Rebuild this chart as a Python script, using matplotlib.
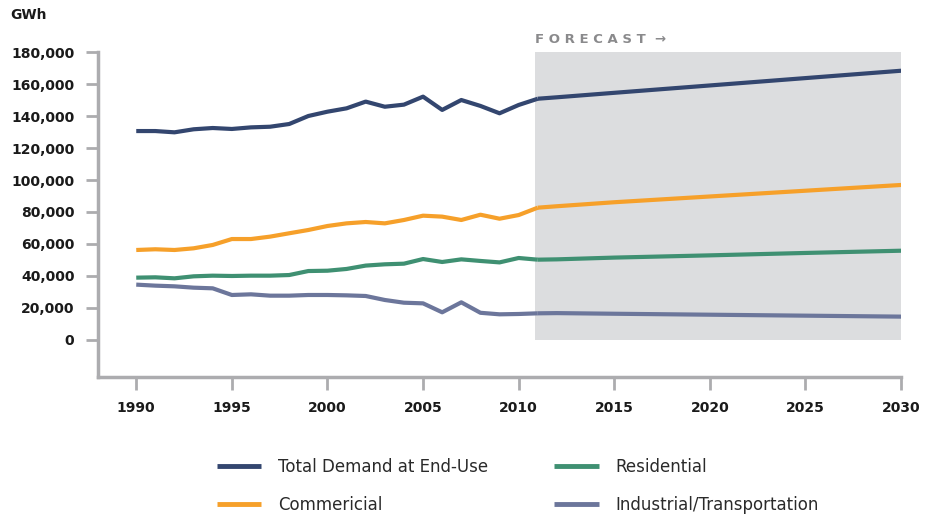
import matplotlib
matplotlib.use("Agg")
import matplotlib.pyplot as plt

# %% dados
anos_hist = [1990, 1991, 1992, 1993, 1994, 1995, 1996, 1997, 1998, 1999, 2000,
             2001, 2002, 2003, 2004, 2005, 2006, 2007, 2008, 2009, 2010, 2011]
anos_prev = [2011, 2012, 2015, 2020, 2025, 2030]

total_hist = [130600, 130600, 129800, 131700, 132500, 131900, 132900, 133300, 135000,
              140000, 142700, 144800, 149000, 145800, 147100, 152100, 143800, 150000,
              146300, 141700, 146900, 150800]
total_prev = [150800, 151700, 154500, 159100, 163700, 168300]

comercial_hist = [56250, 56700, 56250, 57300, 59400, 63100, 63100, 64600, 66700,
                  68750, 71250, 72900, 73750, 72900, 75000, 77700, 77100, 75000,
                  78300, 75800, 78100, 82700]
comercial_prev = [82700, 83600, 86100, 89700, 93300, 96900]

residencial_hist = [38960, 39170, 38540, 39790, 40200, 40000, 40200, 40200, 40600,
                    43100, 43300, 44400, 46500, 47300, 47700, 50600, 48750, 50400,
                    49400, 48500, 51250, 50200]
residencial_prev = [50200, 50400, 51500, 52900, 54400, 55800]

industrial_hist = [34600, 33960, 33540, 32700, 32290, 28125, 28540, 27700, 27700,
                   28125, 28125, 27900, 27500, 25000, 23300, 22900, 17300, 23540,
                   17000, 16040, 16250, 16670]
industrial_prev = [16670, 16800, 16400, 15800, 15200, 14600]

series = [
    ("Total Demand at End-Use", total_hist, total_prev, "#33466f"),
    ("Commericial", comercial_hist, comercial_prev, "#f6a02a"),
    ("Residential", residencial_hist, residencial_prev, "#3f9072"),
    ("Industrial/Transportation", industrial_hist, industrial_prev, "#6c769b"),
]

inicio_previsao = 2010.85
anos_ticks = [1990, 1995, 2000, 2005, 2010, 2015, 2020, 2025, 2030]
valores_ticks = list(range(0, 180001, 20000))

cinza_eixo = "#acacaf"

# %% grafico
fig = plt.figure(figsize=(9.36, 5.15), dpi=100)
ax = fig.add_axes([0.1047, 0.268, 0.858, 0.631])

ax.fill_between([inicio_previsao, 2030], 0, 180000, color="#dcdddf", lw=0, zorder=0)

for nome, hist, prev, cor in series:
    ax.plot(anos_hist, hist, color=cor, lw=3, solid_capstyle="butt",
            solid_joinstyle="round", label=nome, zorder=3)
    ax.plot(anos_prev, prev, color=cor, lw=3, solid_capstyle="butt",
            solid_joinstyle="round", zorder=3)

ax.set_xlim(1988, 2030)
ax.set_ylim(-23125, 180000)
ax.set_xticks(anos_ticks)
ax.set_yticks(valores_ticks)
ax.set_yticklabels([f"{v:,}" for v in valores_ticks])

for lado in ["top", "right"]:
    ax.spines[lado].set_visible(False)
for lado in ["left", "bottom"]:
    ax.spines[lado].set_color(cinza_eixo)
    ax.spines[lado].set_linewidth(2.5)

ax.tick_params(axis="both", colors=cinza_eixo, width=2, length=9, pad=8,
               labelcolor="#1a1a1a", labelsize=10)
for lbl in ax.get_xticklabels() + ax.get_yticklabels():
    lbl.set_fontweight("bold")

fig.text(10 / 936, 1 - 15 / 515, "GWh", fontsize=10, fontweight="bold",
         color="#1a1a1a", va="center", ha="left")

ax.text(inicio_previsao, 183500, "F O R E C A S T  \u2192", fontsize=9.5,
        fontweight="bold", color="#8a8a8c", ha="left", va="bottom")

handles, labels = ax.get_legend_handles_labels()
leg = fig.legend(handles, labels, loc="upper left", bbox_to_anchor=(0.2245, 0.123),
                 ncol=2, frameon=False, fontsize=12, handlelength=2.65,
                 handletextpad=1.0, columnspacing=4.0, labelspacing=1.2,
                 borderaxespad=0, labelcolor="#2a2a2a")
for linha in leg.get_lines():
    linha.set_linewidth(3.5)

fig.savefig("out.png", dpi=100)
